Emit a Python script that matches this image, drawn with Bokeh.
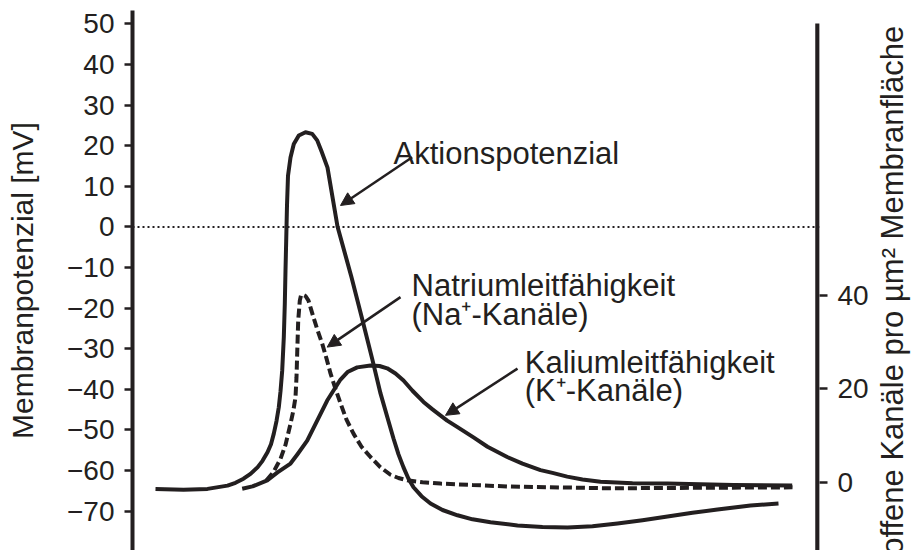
import math
from bokeh.plotting import figure
from bokeh.layouts import row
from bokeh.models import Range1d, LinearAxis, FixedTicker, Span, Label, Arrow, NormalHead
from bokeh.embed import file_html
from bokeh.resources import INLINE

# ---- data (time in ms, arbitrary origin) ----
ap_t = [0.23, 0.51, 0.75, 0.95, 1.03, 1.11, 1.18, 1.25, 1.30, 1.35, 1.385, 1.413, 1.44, 1.463, 1.48,
        1.497, 1.513, 1.523, 1.53, 1.537, 1.545, 1.555, 1.58, 1.613, 1.663, 1.73, 1.797, 1.847,
        1.89, 1.95, 2.05, 2.19, 2.30, 2.40, 2.48, 2.55, 2.61, 2.66, 2.71, 2.76, 2.81, 2.89, 2.98,
        3.10, 3.25, 3.40, 3.58, 3.85, 4.10, 4.35, 4.60, 4.85, 5.10, 5.35, 5.60, 5.85, 6.18, 6.46]
ap_v = [-64.5, -64.7, -64.5, -63.7, -63.0, -62.0, -60.8, -59.2, -57.6, -55.5, -53.5, -50.9, -47.8, -44.4, -40.5,
        -35.4, -27.2, -19.0, -10.7, -3.4, 5.3, 12.6, 17.1, 20.4, 22.5, 23.3, 22.9, 21.3,
        18.6, 14.6, 0.1, -12.4, -23.0, -32.8, -41.0, -47.0, -52.1, -56.0, -59.2, -62.0, -64.1, -66.3, -68.1,
        -69.7, -71.0, -72.0, -72.7, -73.5, -73.9, -74.0, -73.7, -73.0, -72.2, -71.3, -70.4, -69.6, -68.6, -68.1]

na_t = [1.34, 1.41, 1.48, 1.53, 1.58, 1.61, 1.63, 1.64, 1.647, 1.657, 1.673, 1.685, 1.70, 1.73, 1.76,
        1.81, 1.85, 1.897, 1.94, 1.98, 2.03, 2.08, 2.14, 2.21, 2.29, 2.38, 2.48, 2.58, 2.66, 2.747,
        2.90, 3.08, 3.40, 3.747, 4.75, 6.60]
na_c = [0.4, 2.2, 5.0, 8.0, 12.5, 15.5, 18.2, 22.5, 27.6, 34.6, 38.9, 40.0, 40.2, 39.9, 38.9,
        35.3, 32.6, 29.7, 26.5, 23.3, 20.0, 16.9, 13.4, 10.4, 7.6, 5.4, 3.2, 1.6, 0.9, 0.4,
        0.0, -0.3, -0.6, -0.9, -1.3, -1.1]

k_t = [1.097, 1.20, 1.347, 1.45, 1.58, 1.65, 1.747, 1.847, 1.947, 2.08, 2.15, 2.247, 2.38, 2.47,
       2.547, 2.63, 2.71, 2.80, 2.91, 3.00, 3.147, 3.25, 3.41, 3.55, 3.747, 3.90, 4.08, 4.20,
       4.347, 4.50, 4.68, 5.00, 5.347, 6.01, 6.597]
k_c = [-1.4, -0.9, 0.4, 2.1, 4.0, 6.0, 8.9, 13.2, 17.5, 22.0, 23.6, 24.6, 25.0, 24.9,
       24.4, 23.3, 21.8, 19.6, 17.2, 15.6, 13.2, 11.8, 9.6, 7.6, 5.4, 4.0, 2.6, 2.0,
       1.2, 0.6, 0.1, -0.2, -0.3, -0.6, -0.7]

left_ticks = [50, 40, 30, 20, 10, 0, -10, -20, -30, -40, -50, -60, -70]
right_ticks = [0, 20, 40]

INK = "#231f20"
FONT = "Liberation Sans"

p = figure(width=872, height=550, x_range=Range1d(0, 6.87), y_range=Range1d(-79.67, 53.27),
           output_backend="svg", toolbar_location=None,
           min_border_left=132, min_border_right=53, min_border_top=10, min_border_bottom=0)
p.xaxis.visible = False
p.outline_line_color = None
p.xgrid.visible = False
p.ygrid.visible = False
p.extra_y_ranges = {"ch": Range1d(-14.63, 101.06)}

ya = p.yaxis[0]
ya.ticker = FixedTicker(ticks=left_ticks)
ya.axis_label = "Membranpotenzial [mV]"
ya.axis_label_text_font = FONT
ya.axis_label_text_font_size = "30px"
ya.axis_label_text_font_style = "normal"
ya.axis_label_text_color = INK
ya.axis_label_standoff = 25
ya.major_label_text_font = FONT
ya.major_label_text_font_size = "28px"
ya.major_label_text_color = INK
ya.major_label_standoff = 10
ya.axis_line_width = 4
ya.axis_line_color = INK
ya.major_tick_line_width = 2.5
ya.major_tick_line_color = INK
ya.major_tick_in = 0
ya.major_tick_out = 8
ya.minor_tick_line_color = None

ra = LinearAxis(y_range_name="ch", ticker=FixedTicker(ticks=right_ticks))
ra.major_label_text_font = FONT
ra.major_label_text_font_size = "28px"
ra.major_label_text_color = INK
ra.major_label_standoff = 10
ra.axis_line_color = None
ra.major_tick_line_width = 2.5
ra.major_tick_line_color = INK
ra.major_tick_in = 0
ra.major_tick_out = 8
ra.minor_tick_line_color = None
p.add_layout(ra, "right")

# right axis line (shorter than the left one)
p.segment(x0=[6.85], y0=[98.3], x1=[6.85], y1=[-14.63], y_range_name="ch",
          line_width=4.5, line_color=INK)

# zero line
p.add_layout(Span(location=0, dimension="width", line_color=INK, line_width=2,
                  line_dash="2 3"))

# curves
p.line(na_t, na_c, y_range_name="ch", line_width=4, line_color=INK, line_dash="9 4")
p.line(k_t, k_c, y_range_name="ch", line_width=4, line_color=INK, line_join="round")
p.line(ap_t, ap_v, line_width=4, line_color=INK, line_join="round")

# annotations
labels = [
    ("Aktionspotenzial", 2.61, 18.07),
    ("Natriumleitfähigkeit", 2.79, -14.43),
    ("(Na⁺-Kanäle)", 2.79, -21.57),
    ("Kaliumleitfähigkeit", 3.923, -33.3),
    ("(K⁺-Kanäle)", 3.923, -40.3),
]
for txt, x, y in labels:
    p.add_layout(Label(x=x, y=y, text=txt, text_font=FONT, text_font_size="31px",
                       text_color=INK, text_align="left", text_baseline="alphabetic"))

arrows = [
    (2.797, 17.16, 2.08, 5.27),
    (2.68, -17.3, 1.947, -29.6),
    (3.85, -34.9, 3.13, -46.4),
]
for xs, ys, xe, ye in arrows:
    p.add_layout(Arrow(end=NormalHead(size=13, fill_color=INK, line_color=INK, line_width=1),
                       x_start=xs, y_start=ys, x_end=xe, y_end=ye,
                       line_color=INK, line_width=2.5))

# narrow strip on the right holding the right-axis title (reads bottom to top)
p2 = figure(width=40, height=550, x_range=Range1d(0, 1), y_range=Range1d(550, 0),
            output_backend="svg", toolbar_location=None,
            min_border_left=0, min_border_right=0, min_border_top=0, min_border_bottom=0)
p2.xaxis.visible = False
p2.yaxis.visible = False
p2.xgrid.visible = False
p2.ygrid.visible = False
p2.outline_line_color = None
p2.add_layout(Label(x=0.5, y=285, text="offene Kanäle pro µm² Membranfläche",
                    text_font=FONT, text_font_size="31px", text_color=INK,
                    angle=math.pi / 2, text_align="center", text_baseline="middle"))

layout = row(p, p2)
open("out.html", "w").write(file_html(layout, INLINE))
